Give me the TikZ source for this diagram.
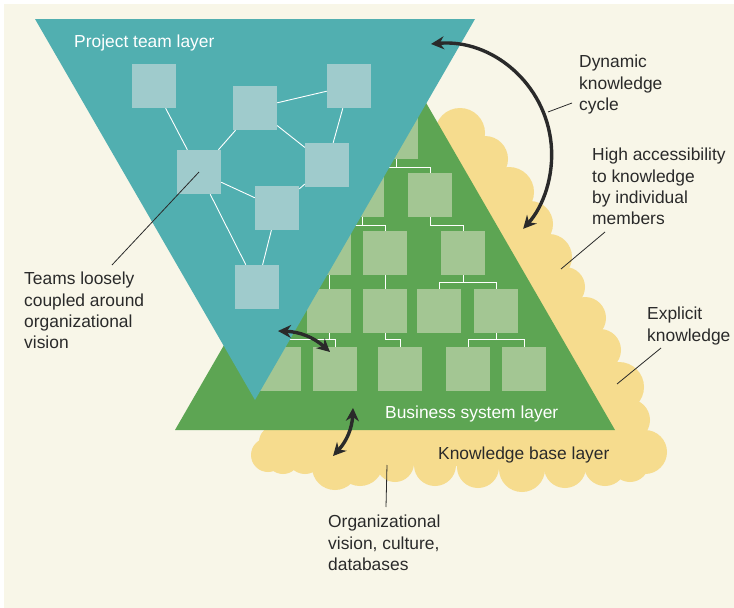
\documentclass[tikz,border=0pt]{standalone}
\usepackage{fontspec}
\setmainfont{Liberation Sans}
\usetikzlibrary{arrows.meta,calc}
\definecolor{cream}{HTML}{F8F6E8}
\definecolor{teala}{HTML}{51AFB0}
\definecolor{tealbox}{HTML}{9FCBCC}
\definecolor{grn}{HTML}{5DA553}
\definecolor{grnbox}{HTML}{A3C693}
\definecolor{ylw}{HTML}{F6DC8E}
\definecolor{ink}{HTML}{2A2A2A}
\begin{document}
\begin{tikzpicture}[x=1pt,y=-1pt,
 tbox/.style={rectangle,fill=tealbox,minimum width=44pt,minimum height=44pt,inner sep=0pt},
 gbox/.style={rectangle,fill=grnbox,minimum width=44pt,minimum height=44pt,inner sep=0pt},
 tlink/.style={white,line width=0.9pt},
 glink/.style={white,line width=0.9pt},
 lbl/.style={font=\fontsize{17.4pt}{21.3pt}\selectfont,text=ink,align=left,anchor=north west,inner sep=0pt},
 wlbl/.style={lbl,text=white},
 leader/.style={ink,line width=0.8pt},
 bigarrow/.style={ink,line width=3.4pt,{Stealth[length=13pt,width=13pt]}-{Stealth[length=13pt,width=13pt]}},
]
\useasboundingbox (0,0) rectangle (734,608);
\fill[white] (0,0) rectangle (734,608);
\fill[cream] (4,4) rectangle (734,608);
% knowledge base cloud
\fill[ylw] (440,140) -- (460,133) -- (485,159) -- (509,192) -- (530,224) -- (549,257) -- (565,287) -- (585,318) -- (600,350) -- (619,387) -- (629,420) -- (645,452) -- (630,463) -- (605,465) -- (565,467) -- (522,469) -- (478,467) -- (435,465) -- (395,463) -- (360,463) -- (335,467) -- (305,456) -- (283,457) -- (268,455) -- (275,442) -- (268,435) -- (300,380) -- cycle;
\foreach \cx/\cy/\r in {460/133/25, 485/159/23, 509/192/25, 530/224/23, 549/257/23, 565/287/20, 585/318/21, 600/350/21, 619/387/25, 629/420/21, 645/452/22, 630/463/19, 605/465/21, 565/467/21, 522/469/23, 478/467/21, 435/465/21, 395/463/19, 360/463/23, 335/467/23, 305/456/18, 283/457/17, 268/455/17, 275/442/16}
  \fill[ylw] (\cx,\cy) circle[radius=\r];
% business system layer
\fill[grn] (175,430) -- (395,49) -- (615,430) -- cycle;
\node[gbox] (B1) at (396,137) {};
\node[gbox] (B2) at (362,195) {};
\node[gbox] (B3) at (430,195) {};
\node[gbox] (B4h) at (329,253) {};
\node[gbox] (B4) at (385,253) {};
\node[gbox] (B5) at (463,253) {};
\node[gbox] (B6) at (329,311) {};
\node[gbox] (B7) at (385,311) {};
\node[gbox] (B8) at (439,311) {};
\node[gbox] (B9) at (496,311) {};
\node[gbox] (B10) at (279,369) {};
\node[gbox] (B11) at (335,369) {};
\node[gbox] (B12) at (400,369) {};
\node[gbox] (B13) at (468,369) {};
\node[gbox] (B14) at (524,369) {};
\draw[glink] (B1.south) -- ++(0,8) -| (B2.north);
\draw[glink] (B1.south) -- ++(0,8) -| (B3.north);
\draw[glink] (B2.south) -- ++(0,8) -| (B4h.north);
\draw[glink] (B2.south) -- ++(0,8) -| (B4.north);
\draw[glink] (B3.south) -- ++(0,8) -| (B5.north);
\draw[glink] (B4h.south) -- (B6.north);
\draw[glink] (B4.south) -- (B7.north);
\draw[glink] (B5.south) -- ++(0,7) -| (B8.north);
\draw[glink] (B5.south) -- ++(0,7) -| (B9.north);
\draw[glink] (B6.south) -- ++(0,6) -| (B10.north);
\draw[glink] (B6.south) -- ++(0,6) -| (B11.north);
\draw[glink] (B7.south) -- ++(0,6) -| (B12.north);
\draw[glink] (B9.south) -- ++(0,6) -| (B13.north);
\draw[glink] (B9.south) -- ++(0,6) -| (B14.north);
% project team layer
\fill[teala] (35,19) -- (475,19) -- (255,400) -- cycle;
\node[tbox] (T1) at (154,86) {};
\node[tbox] (T2) at (255,108) {};
\node[tbox] (T3) at (349,86) {};
\node[tbox] (T4) at (199,172) {};
\node[tbox] (T5) at (327,165) {};
\node[tbox] (T6) at (277,208) {};
\node[tbox] (T7) at (257,287) {};
\draw[tlink] (T1) -- (T4);
\draw[tlink] (T4) -- (T2);
\draw[tlink] (T2) -- (T3);
\draw[tlink] (T2) -- (T5);
\draw[tlink] (T3) -- (T5);
\draw[tlink] (T4) -- (T6);
\draw[tlink] (T6) -- (T5);
\draw[tlink] (T4) -- (T7);
\draw[tlink] (T6) -- (T7);
% labels
\node[wlbl] (ptl) at (74,35) {Project team layer};
\node[lbl] (dkc) at (579,55) {Dynamic\\knowledge\\cycle};
\node[lbl] (hak) at (592,148) {High accessibility\\to knowledge\\by individual\\members};
\node[lbl] (tlc) at (24,272) {Teams loosely\\coupled around\\organizational\\vision};
\node[lbl] (exk) at (647,307) {Explicit\\knowledge};
\node[wlbl] (bsl) at (385,406) {Business system layer};
\node[lbl] (kbl) at (438,447) {Knowledge base layer};
\node[lbl] (ovc) at (328,515) {Organizational\\vision, culture,\\databases};
% leader lines
\coordinate (L1) at (112,265);
\coordinate (L2a) at (572,103); \coordinate (L2b) at (548,112);
\coordinate (L3a) at (605,232); \coordinate (L3b) at (561,269);
\coordinate (L4a) at (661,348); \coordinate (L4b) at (617,384);
\coordinate (L5a) at (387,465); \coordinate (L5b) at (386,507);
\draw[leader] (L1) -- (T4.center);
\draw[leader] (L2a) -- (L2b);
\draw[leader] (L3a) -- (L3b);
\draw[leader] (L4a) -- (L4b);
\draw[leader] (L5a) -- (L5b);
% arrows
\coordinate (A1) at (431,44);
\draw[bigarrow] (A1) arc[start angle=-95,end angle=42,radius=111];
\coordinate (A2s) at (278,331); \coordinate (A2e) at (330,352);
\draw[bigarrow] (A2s) to[bend left=20] (A2e);
\coordinate (A3s) at (353,408); \coordinate (A3e) at (333,456);
\draw[bigarrow] (A3s) to[bend left=20] (A3e);
\end{tikzpicture}
\end{document}
